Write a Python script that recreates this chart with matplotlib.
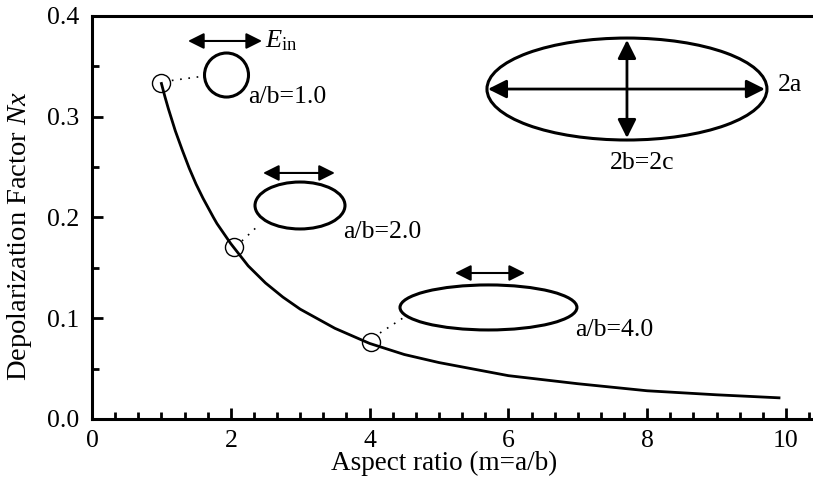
import matplotlib
matplotlib.use("Agg")
import matplotlib.pyplot as plt
from matplotlib.patches import Ellipse
from matplotlib.ticker import MultipleLocator

plt.rcParams['font.family'] = ['Liberation Serif', 'DejaVu Serif']
plt.rcParams['mathtext.fontset'] = 'custom'
plt.rcParams['mathtext.rm'] = 'Liberation Serif'
plt.rcParams['mathtext.it'] = 'Liberation Serif:italic'

# depolarization factor of a prolate spheroid vs aspect ratio
aspect = [1.0, 1.05, 1.1, 1.15, 1.2, 1.3, 1.4, 1.5, 1.6, 1.75, 1.8, 2.0,
          2.25, 2.5, 2.75, 3.0, 3.5, 4.0, 4.5, 5.0, 6.0, 7.0, 8.0, 9.0, 9.9]
nx = [0.333, 0.320, 0.308, 0.297, 0.286, 0.267, 0.249, 0.233, 0.219, 0.200,
      0.194, 0.174, 0.152, 0.135, 0.121, 0.109, 0.090, 0.075, 0.064, 0.056,
      0.043, 0.035, 0.028, 0.024, 0.021]

# highlighted shapes
mark_m = [1.0, 2.05, 4.02]
mark_nx = [0.333, 0.171, 0.076]
shape_labels = ["a/b=1.0", "a/b=2.0", "a/b=4.0"]

fig = plt.figure(figsize=(8.13, 4.86), dpi=100)
ax = fig.add_axes([0.1132, 0.1379, 0.8868, 0.8292])

ax.plot(aspect, nx, color='k', lw=2.0, zorder=3, solid_joinstyle='round')
ax.plot(mark_m, mark_nx, 'o', ms=13, mfc='none', mec='k', mew=1.0, zorder=4)

ax.set_xlim(0, 10.39)
ax.set_ylim(0, 0.4)
ax.xaxis.set_major_locator(MultipleLocator(2))
ax.xaxis.set_minor_locator(MultipleLocator(1 / 3))
ax.yaxis.set_major_locator(MultipleLocator(0.1))
ax.yaxis.set_minor_locator(MultipleLocator(0.05))
ax.yaxis.set_major_formatter(lambda v, p: f"{v:.1f}")
ax.tick_params(which='both', direction='in', width=2, labelsize=18.5,
               top=False, right=False)
ax.tick_params(which='major', length=8)
ax.tick_params(which='minor', length=5)
ax.tick_params(axis='y', pad=9)
ax.tick_params(axis='x', pad=8)
for side in ['left', 'bottom', 'top']:
    ax.spines[side].set_linewidth(2.2)
ax.spines['right'].set_visible(False)

ax.set_xlabel("Aspect ratio (m=a/b)", fontsize=19.5)
ax.set_ylabel("Depolarization Factor $\\mathit{Nx}$", fontsize=20.5)
ax.xaxis.set_label_coords(0.488, -0.079)
ax.yaxis.set_label_coords(-0.080, 0.453)

# sketches of each spheroid with field direction
shapes = [
    # center, width, height, arrow x-range, arrow y, label pos, dotted link
    ((1.938, 0.3414), 0.634, 0.0437, (1.383, 2.45), 0.3752, (2.25, 0.3196),
     ((1.15, 0.336), (1.58, 0.340))),
    ((2.997, 0.2119), 1.297, 0.0466, (2.464, 3.50), 0.2442, (3.62, 0.1856),
     ((2.16, 0.1767), (2.39, 0.1916))),
    ((5.713, 0.1107), 2.55, 0.0447, (5.231, 6.24), 0.1449, (6.96, 0.0883),
     ((4.15, 0.0854), (4.48, 0.1002))),
]
for (c, w, h, (x0, x1), ya, (tx, ty), (p0, p1)), lab in zip(shapes, shape_labels):
    ax.add_patch(Ellipse(c, w, h, fill=False, ec='k', lw=2.2))
    ax.annotate("", xy=(x1, ya), xytext=(x0, ya),
                arrowprops=dict(arrowstyle='<|-|>', color='k', lw=1.5,
                                mutation_scale=24, shrinkA=0, shrinkB=0))
    ax.text(tx, ty, lab, fontsize=18.5, ha='left', va='center')
    ax.plot([p0[0], p1[0]], [p0[1], p1[1]], color='k', lw=1.2, ls=(0, (1, 4)))

ax.text(2.49, 0.3752, "$E_{\\mathrm{in}}$", fontsize=19, ha='left', va='center')

# large prolate spheroid with axes
ax.add_patch(Ellipse((7.709, 0.3275), 4.035, 0.1012, fill=False, ec='k', lw=2.2))
ax.annotate("", xy=(9.697, 0.3275), xytext=(5.706, 0.3275),
            arrowprops=dict(arrowstyle='<|-|>', color='k', lw=2,
                            mutation_scale=28, shrinkA=0, shrinkB=0))
ax.annotate("", xy=(7.709, 0.3762), xytext=(7.709, 0.2789),
            arrowprops=dict(arrowstyle='<|-|>', color='k', lw=2,
                            mutation_scale=28, shrinkA=0, shrinkB=0))
ax.text(9.885, 0.3315, "2a", fontsize=18.5, ha='left', va='center')
ax.text(7.925, 0.2541, "2b=2c", fontsize=18.5, ha='center', va='center')

fig.savefig("out.png", dpi=100)
